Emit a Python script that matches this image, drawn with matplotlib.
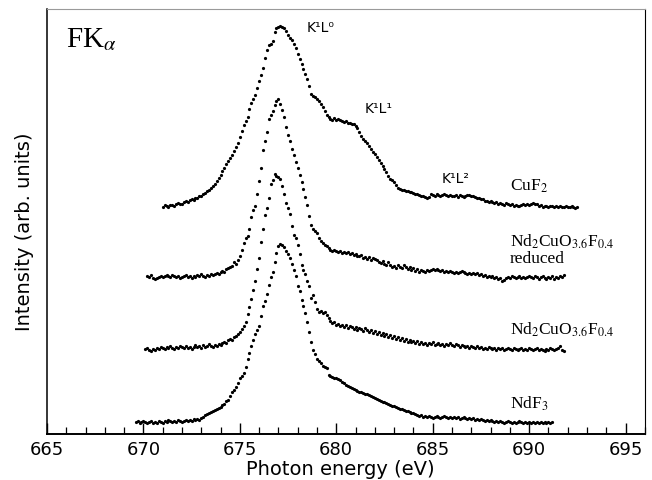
import numpy as np
import matplotlib
matplotlib.use("Agg")
import matplotlib.pyplot as plt
from matplotlib.ticker import MultipleLocator

plt.rcParams['mathtext.fontset'] = 'stix'

# ---- data: photon energy grid start (eV), step 0.1 eV, intensities (arb. units, incl. vertical offsets)
step = 0.1

cuf2_start = 671.0
cuf2 = [227,229,228,227,229,229,228,230,231,230,230,232,233,232,234,235,234,236,236,238,
        238,240,241,243,244,246,248,250,253,256,259,263,266,270,273,276,279,283,287,291,
        297,303,309,313,317,325,331,335,339,346,353,359,366,376,384,389,390,393,402,406,
        407,408,407,406,403,399,396,394,390,386,380,375,370,365,360,355,348,340,338,337,
        335,333,330,327,323,319,317,315,314,316,314,315,314,313,312,313,311,311,310,310,
        308,306,302,298,295,293,291,288,285,282,280,277,274,271,268,265,262,258,255,254,
        252,249,246,245,244,244,243,243,242,242,241,240,240,239,238,238,237,236,237,240,
        239,238,240,239,238,239,240,239,238,239,238,238,239,237,239,238,237,238,239,239,
        238,238,237,236,236,235,235,233,233,232,233,232,231,232,230,231,230,229,231,230,
        229,230,228,229,228,228,229,230,229,230,229,230,231,230,230,228,229,227,228,228,
        227,228,228,227,228,227,228,227,227,228,227,227,228,227,226,227]

reduced_start = 670.2
reduced = [158,157,159,156,155,156,157,158,157,158,159,158,157,159,158,157,158,156,157,158,
           159,157,158,156,158,157,159,158,160,158,157,159,158,160,159,160,161,160,162,163,
           162,165,166,167,168,172,170,174,178,184,191,196,198,205,217,224,228,240,253,266,
           284,293,302,315,319,323,329,333,335,330,324,317,307,299,293,285,279,272,266,259,
           252,245,237,229,218,209,205,203,201,196,193,191,189,188,186,184,183,184,183,182,
           183,181,182,181,182,180,181,179,180,178,178,179,176,177,175,177,174,176,175,174,
           172,171,173,170,169,172,169,167,168,166,169,167,166,169,167,165,167,164,166,163,
           165,162,164,163,162,164,163,164,165,164,165,164,163,164,162,163,162,163,162,161,
           162,161,162,163,162,161,160,161,160,161,160,161,159,160,158,159,157,158,157,158,
           156,157,155,156,153,154,156,157,156,158,157,156,157,158,156,157,156,157,158,157,
           156,158,157,155,157,158,156,155,157,156,158,155,157,156,158,157,159]

nd2_start = 670.1
nd2 = [85,86,84,83,85,84,86,85,87,86,85,87,86,88,86,85,87,86,88,87,
       86,88,86,87,85,87,89,87,88,86,89,87,88,90,88,87,89,88,90,89,
       91,92,91,94,95,94,97,98,100,102,105,108,112,120,127,135,144,153,165,176,
       192,205,219,226,236,250,254,260,258,257,255,248,240,231,226,220,208,199,196,189,
       180,169,164,160,153,148,136,139,132,125,122,123,121,122,119,116,113,111,112,109,
       110,108,109,107,109,106,108,107,105,107,104,106,105,103,106,104,102,104,101,103,
       100,102,99,101,98,100,97,99,96,98,95,97,94,96,93,95,92,94,92,93,
       91,93,90,92,90,91,89,91,90,92,89,90,91,89,90,88,90,89,91,89,
       88,90,89,87,89,88,87,88,86,88,87,86,88,86,87,85,86,85,87,86,
       85,86,84,86,85,86,84,85,86,85,84,86,85,84,85,86,84,85,84,86,
       85,84,85,86,84,85,84,83,85,84,86,85,84,85,86,88,84,83]

ndf3_start = 669.6
ndf3 = [12,13,11,12,13,12,11,12,13,11,12,11,13,12,11,13,12,14,13,12,
        13,12,14,13,12,13,14,13,14,13,15,14,15,14,16,17,19,20,21,22,
        23,24,25,26,27,29,30,33,34,38,42,44,47,51,56,58,61,67,75,81,
        88,94,100,104,108,118,128,133,140,149,157,162,172,181,188,190,189,187,183,180,
        176,170,164,158,148,143,134,128,121,112,102,92,84,80,75,73,71,68,67,66,
        59,58,57,56,56,55,54,52,51,49,48,47,46,45,44,43,42,42,41,40,
        40,39,38,37,36,35,34,33,32,32,31,30,29,28,28,27,26,25,25,24,
        23,23,22,21,21,20,19,18,19,17,18,17,18,17,16,17,18,17,16,17,
        18,17,16,17,16,17,16,17,15,16,17,16,15,16,15,16,14,15,14,15,
        14,13,14,13,14,13,12,13,12,13,12,11,12,13,12,11,12,11,12,13,
        12,11,12,11,12,11,12,11,12,11,12,11,12,11,12,11,12]

series = [(cuf2_start, cuf2), (reduced_start, reduced), (nd2_start, nd2), (ndf3_start, ndf3)]

fig = plt.figure(figsize=(6.52, 4.81), dpi=100)
ax = fig.add_axes([0.072, 0.0956, 0.917, 0.8835])

for start, vals in series:
    vals = np.asarray(vals, dtype=float)
    e = start + step * np.arange(len(vals))
    ax.plot(e, vals, linestyle='none', marker='o', ms=2.3, color='black', mec='black', mew=0)

ax.set_xlim(665, 696.0)
ax.set_ylim(0, 425)

ax.xaxis.set_major_locator(MultipleLocator(5))
ax.xaxis.set_minor_locator(MultipleLocator(1))
ax.tick_params(axis='x', which='major', direction='in', length=8, width=1.0, pad=4,
               labelsize=13, top=False)
ax.tick_params(axis='x', which='minor', direction='in', length=5, width=0.9, top=False)
ax.tick_params(axis='y', left=False, labelleft=False, right=False)

for lab in ax.get_xticklabels():
    lab.set_fontfamily('DejaVu Sans')

ax.spines['left'].set_linewidth(1.1)
ax.spines['bottom'].set_linewidth(1.4)
ax.spines['right'].set_linewidth(0.8)
ax.spines['top'].set_linewidth(0.8)
ax.spines['top'].set_color('#9a9a9a')

ax.set_xlabel('Photon energy (eV)', fontsize=14, family='DejaVu Sans')
ax.xaxis.set_label_coords(0.49, -0.058)
ax.xaxis.label.set_va('top')
ax.set_ylabel('Intensity (arb. units)', fontsize=14, family='DejaVu Sans')
ax.yaxis.set_label_coords(-0.022, 0.478)
ax.yaxis.label.set_va('bottom')

serif = 'Liberation Serif'
ax.text(666.0, 388, r'FK$_{\alpha}$', fontsize=21, family=serif, va='baseline', ha='left')

ax.text(689.0, 249, r'CuF$_2$', fontsize=12.5, family=serif, va='center', ha='left')
ax.text(689.0, 193, r'Nd$_2$CuO$_{3.6}$F$_{0.4}$', fontsize=12.5, family=serif, va='center', ha='left')
ax.text(689.0, 176, 'reduced', fontsize=12.5, family=serif, va='center', ha='left')
ax.text(689.0, 105, r'Nd$_2$CuO$_{3.6}$F$_{0.4}$', fontsize=12.5, family=serif, va='center', ha='left')
ax.text(689.0, 31, r'NdF$_3$', fontsize=12.5, family=serif, va='center', ha='left')

ax.text(678.45, 407, 'K\u00b9L\u2070', fontsize=10, family='DejaVu Sans', va='center', ha='left')
ax.text(681.45, 326, 'K\u00b9L\u00b9', fontsize=10, family='DejaVu Sans', va='center', ha='left')
ax.text(685.45, 256, 'K\u00b9L\u00b2', fontsize=10, family='DejaVu Sans', va='center', ha='left')

fig.savefig('out.png', dpi=100)
